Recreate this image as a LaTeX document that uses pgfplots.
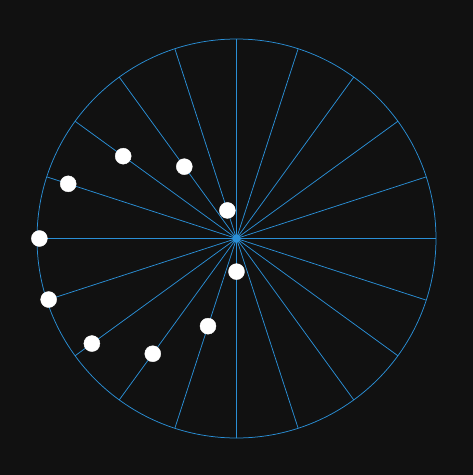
\documentclass[border=0pt]{standalone}
\usepackage{pgfplots}
\pgfplotsset{compat=1.18}
\usepgfplotslibrary{polar}
\definecolor{bg}{HTML}{111111}
\definecolor{spoke}{HTML}{2A8FD6}
\begin{document}
\begin{tikzpicture}
\fill[bg] (-236.5pt,-236.5pt) rectangle (236.5pt,238.5pt);
\begin{polaraxis}[
    at={(0pt,0pt)}, anchor=center,
    scale only axis,
    width=399pt, height=399pt,
    ymin=0, ymax=1,
    xtick={0,18,...,342},
    xticklabels={},
    ytick=\empty,
    xmajorgrids,
    grid style={spoke, line width=0.75pt},
    axis line style={spoke, line width=0.75pt},
    major tick length=0pt,
    clip=false,
]
\addplot[only marks, mark=*, mark size=8pt, mark options={fill=white, draw=white}]
    coordinates {
    (108,0.148)(126,0.445)(144,0.702)(162,0.887)(180,0.988)
    (198,0.990)(216,0.896)(234,0.714)(252,0.462)(270,0.166)
    };
\end{polaraxis}
\end{tikzpicture}
\end{document}
